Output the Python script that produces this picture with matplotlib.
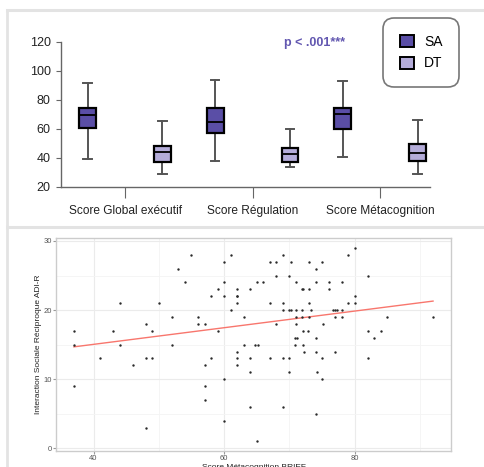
import numpy as np
import matplotlib
matplotlib.use('Agg')
import matplotlib.pyplot as plt
from matplotlib.patches import Patch
from matplotlib.lines import Line2D

plt.rcParams['font.family'] = ['Liberation Sans', 'DejaVu Sans']

# boxplot data
categories = ['Score Global exécutif', 'Score Régulation', 'Score Métacognition']
sa_whislo = [39.0, 38.0, 40.7]
sa_q1 = [60.2, 56.8, 60.0]
sa_med = [69.4, 64.6, 69.9]
sa_q3 = [74.5, 74.5, 74.5]
sa_whishi = [91.3, 93.6, 92.9]
dt_whislo = [28.7, 33.8, 28.7]
dt_q1 = [37.2, 36.8, 37.7]
dt_med = [44.1, 42.3, 43.0]
dt_q3 = [48.3, 46.7, 49.4]
dt_whishi = [65.3, 59.5, 66.0]
groups = ['SA', 'DT']
p_text = 'p < .001***'

# scatter data
brief_meta = [37, 37, 37, 41, 43, 44, 44, 46, 48, 48, 48, 49, 49, 50, 52, 52, 53, 54, 55,
              56, 56, 57, 57, 57, 57, 58, 58, 59, 59, 60, 60, 60, 60, 60, 61, 61,
              62, 62, 62, 62, 62, 62, 62, 63, 63, 64, 64, 64, 64, 64.7, 65.2, 65, 65, 66,
              67, 67, 67, 68, 68, 68, 69, 69, 69, 69, 69, 70, 70, 70, 70, 70.2, 70.3,
              71, 71, 70.8, 71, 71, 70.8, 71.2, 72, 72.1, 71.9, 71.9, 72.1, 72.1, 72.2,
              72.9, 73, 73, 73, 73, 73.3, 74, 74, 74, 74, 74, 74.2, 75, 75, 75, 75.2,
              76, 76, 76.7, 77, 77.3, 77, 77, 78, 78, 78, 79, 79, 80, 80, 80,
              82, 82, 82, 83, 84, 85, 92]
adir_social = [17, 15, 9, 13, 17, 21, 15, 12, 18, 13, 3, 17, 13, 21, 19, 15, 26, 24, 28,
               19, 18, 18, 9, 7, 12, 13, 22, 17, 23, 22, 24, 10, 4, 27, 28, 20,
               22, 22, 23, 21, 14, 12, 13, 19, 15, 23, 13, 6, 11, 15, 15, 24, 1, 24,
               21, 13, 27, 27, 25, 18, 28, 20, 13, 6, 21, 20, 25, 13, 11, 27, 20,
               24, 18, 15, 20, 19, 16, 16, 23, 23, 20, 19, 17, 15, 14,
               17, 19, 27, 23, 21, 20, 16, 26, 24, 14, 5, 11, 13, 10, 27, 18,
               24, 23, 20, 20, 20, 19, 14, 24, 20, 19, 28, 21, 29, 22, 21,
               25, 17, 13, 16, 17, 19, 19]

sa_color = '#5a4ea6'
dt_color = '#b4acd9'

fig = plt.figure(figsize=(4.84, 4.67), dpi=100)

# light grey frames of the two panels
frame_col = '#e3e3e3'
fig.add_artist(Line2D([7 / 484, 7 / 484], [0, 1 - 10 / 467], transform=fig.transFigure,
                      color=frame_col, lw=2))
for yy in [10, 227]:
    fig.add_artist(Line2D([7 / 484, 1], [1 - yy / 467, 1 - yy / 467], transform=fig.transFigure,
                          color=frame_col, lw=2.2))

# ---- top panel: boxplots
ax = fig.add_axes([61 / 484, 1 - 186.7 / 467, 369 / 484, 145 / 467])
offset = 0.294
stats = []
positions = []
colors = []
for i in range(len(categories)):
    stats.append(dict(whislo=sa_whislo[i], q1=sa_q1[i], med=sa_med[i], q3=sa_q3[i],
                      whishi=sa_whishi[i], fliers=[]))
    positions.append(i - offset)
    colors.append(sa_color)
    stats.append(dict(whislo=dt_whislo[i], q1=dt_q1[i], med=dt_med[i], q3=dt_q3[i],
                      whishi=dt_whishi[i], fliers=[]))
    positions.append(i + offset)
    colors.append(dt_color)

bp = ax.bxp(stats, positions=positions, widths=0.133, patch_artist=True, showfliers=False,
            boxprops=dict(edgecolor='black', linewidth=1.6),
            medianprops=dict(color='black', linewidth=1.3),
            whiskerprops=dict(color='#555555', linewidth=1.4),
            capprops=dict(color='#555555', linewidth=1.4), capwidths=0.07)
for patch, c in zip(bp['boxes'], colors):
    patch.set_facecolor(c)
for w in bp['whiskers']:
    w.set_zorder(1)
for b in bp['boxes']:
    b.set_zorder(2)

ax.set_xlim(-0.502, 2.392)
ax.set_ylim(20, 120)
ax.set_yticks([20, 40, 60, 80, 100, 120])
ax.set_xticks(range(len(categories)))
ax.set_xticklabels(categories, fontsize=8.6, color='#222222')
ax.tick_params(axis='y', labelsize=9, length=3.5, color='#666666', labelcolor='#222222', pad=4)
ax.tick_params(axis='x', length=8, color='#666666', pad=5)
for s in ['top', 'right']:
    ax.spines[s].set_visible(False)
for s in ['left', 'bottom']:
    ax.spines[s].set_color('#666666')
    ax.spines[s].set_linewidth(1)
ax.text(1.49, 119, p_text, color='#6257b0', fontsize=9, fontweight='bold', ha='center',
        va='center')

handles = [Patch(facecolor=sa_color, edgecolor='black', linewidth=1.4),
           Patch(facecolor=dt_color, edgecolor='black', linewidth=1.4)]
leg = fig.legend(handles, groups, loc='upper left', bbox_to_anchor=(383 / 484, 1 - 18 / 467),
                 fontsize=10, handlelength=1.0, handleheight=0.95, handletextpad=0.75,
                 labelspacing=0.55, borderpad=1.2, borderaxespad=0, fancybox=True,
                 frameon=True, edgecolor='#777777', framealpha=1)
leg.get_frame().set_linewidth(1.2)
leg.get_frame().set_boxstyle('round', pad=0, rounding_size=0.8)

# ---- bottom panel: scatter
ax2 = fig.add_axes([56 / 484, 1 - 451 / 467, 395 / 484, 213 / 467])
ax2.set_xlim(34.25, 94.75)
ax2.set_ylim(-0.4, 30.43)
ax2.set_xticks([40, 60, 80])
ax2.set_xticks([50, 70, 90], minor=True)
ax2.set_yticks([0, 10, 20, 30])
ax2.set_yticks([5, 15, 25], minor=True)
ax2.grid(which='major', color='#ebebeb', linewidth=0.8)
ax2.grid(which='minor', color='#f4f4f4', linewidth=0.6)
ax2.set_axisbelow(True)
ax2.tick_params(which='major', length=2.2, color='#999999', labelsize=5.5, labelcolor='#555555',
                pad=0.8)
ax2.tick_params(which='minor', length=0)
for s in ax2.spines.values():
    s.set_color('#cccccc')
    s.set_linewidth(1)

xs = np.array(brief_meta, dtype=float)
ys = np.array(adir_social, dtype=float)
ax2.scatter(xs, ys, s=3, color='#2a2a2a', linewidths=0, zorder=3)
slope, intercept = np.polyfit(xs, ys, 1)
xl = np.array([xs.min(), xs.max()])
ax2.plot(xl, intercept + slope * xl, color='#f8766d', linewidth=1, zorder=2)
ax2.set_xlabel('Score Métacognition BRIEF', fontsize=6, color='#222222', labelpad=1)
ax2.set_ylabel('Interaction Sociale Réciproque ADI-R', fontsize=6, color='#222222')
ax2.yaxis.set_label_coords(-0.036, 0.5)

fig.savefig('out.png', dpi=100)
